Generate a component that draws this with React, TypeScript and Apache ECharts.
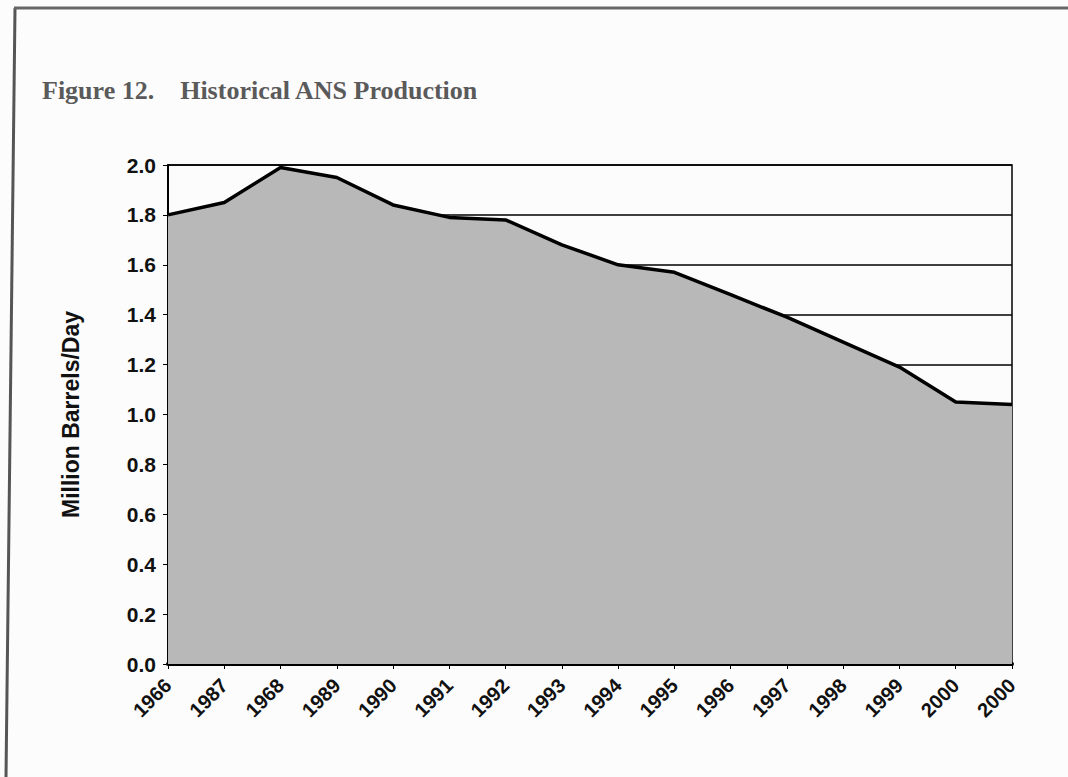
import React, { useEffect, useRef } from "react";
import * as echarts from "echarts";

const years = ["1966", "1987", "1968", "1989", "1990", "1991", "1992", "1993", "1994", "1995", "1996", "1997", "1998", "1999", "2000", "2000"];
const production = [1.80, 1.85, 1.99, 1.95, 1.84, 1.79, 1.78, 1.68, 1.60, 1.57, 1.48, 1.39, 1.29, 1.19, 1.05, 1.04];
const yTicks = [0, 0.2, 0.4, 0.6, 0.8, 1.0, 1.2, 1.4, 1.6, 1.8, 2.0];

export default function App() {
  const ref = useRef<HTMLDivElement>(null);
  useEffect(() => {
    if (!ref.current) return;
    const chart = echarts.init(ref.current, null, { renderer: "svg" });
    chart.setOption({
      animation: false,
      backgroundColor: "#fcfcfc",
      graphic: [
        { type: "line", shape: { x1: 15, y1: 8, x2: 6, y2: 777 }, style: { stroke: "#555", lineWidth: 3 } },
        { type: "line", shape: { x1: 14, y1: 8, x2: 1068, y2: 8 }, style: { stroke: "#666", lineWidth: 3 } },
        {
          type: "text",
          left: 42,
          top: 77,
          style: {
            text: "Figure 12.    Historical ANS Production",
            font: "bold 26px 'Liberation Serif'",
            fill: "#5a5a5a",
          },
        },
      ],
      grid: { left: 168, right: 56, top: 165, bottom: 113, show: true, borderColor: "#000", borderWidth: 1.5, backgroundColor: "transparent" },
      xAxis: {
        type: "category",
        data: years,
        boundaryGap: false,
        axisLine: { lineStyle: { color: "#000", width: 4 } },
        axisTick: { show: true, length: 5, lineStyle: { color: "#000", width: 1 }, alignWithLabel: true },
        axisLabel: {
          rotate: 45,
          interval: 0,
          margin: 18,
          fontFamily: "Liberation Sans",
          fontWeight: "bold",
          fontSize: 20,
          color: "#111",
        },
      },
      yAxis: {
        type: "value",
        min: 0,
        max: 2.0,
        interval: 0.2,
        name: "Million Barrels/Day",
        nameLocation: "middle",
        nameGap: 86,
        nameTextStyle: { fontFamily: "Liberation Sans", fontWeight: "bold", fontSize: 23, color: "#111" },
        axisLine: { show: true, lineStyle: { color: "#000", width: 2 } },
        axisTick: { show: true, length: 5, lineStyle: { color: "#000", width: 1 } },
        axisLabel: {
          margin: 12,
          fontFamily: "Liberation Sans",
          fontWeight: "bold",
          fontSize: 21,
          color: "#111",
          formatter: (v: number) => (yTicks.includes(Math.round(v * 10) / 10) ? v.toFixed(1) : ""),
        },
        splitLine: { show: true, lineStyle: { color: "#000", width: 1.5 } },
      },
      series: [
        {
          type: "line",
          data: production,
          symbol: "none",
          lineStyle: { color: "#000", width: 3.5 },
          areaStyle: { color: "#b8b8b8", opacity: 1 },
        },
      ],
    });
    return () => chart.dispose();
  }, []);
  return <div ref={ref} style={{ position: "fixed", left: 0, top: 0, width: 1068, height: 777 }} />;
}
